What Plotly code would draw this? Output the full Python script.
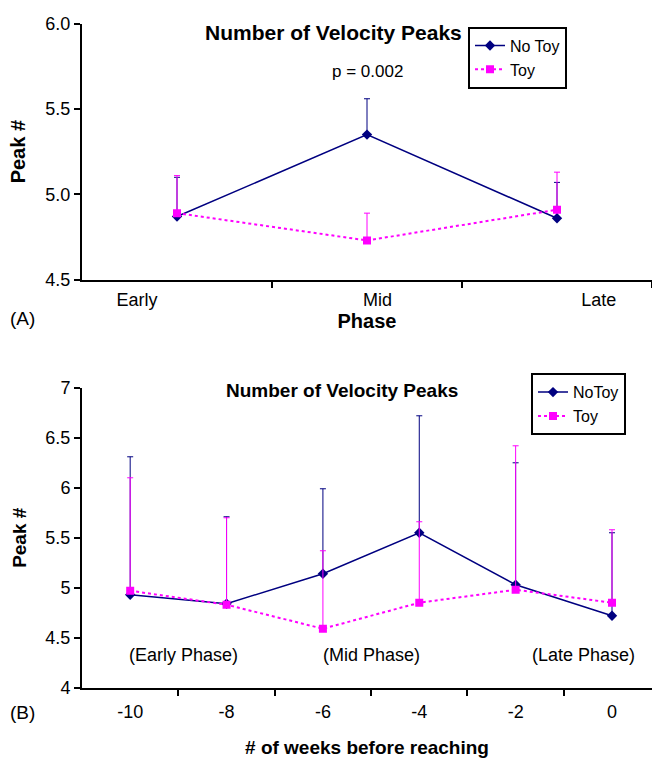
import plotly.graph_objects as go

# ---------- Panel A data ----------
phases = ["Early", "Mid", "Late"]
a_notoy = [4.87, 5.35, 4.86]
a_notoy_err = [0.23, 0.21, 0.21]
a_toy = [4.89, 4.73, 4.91]
a_toy_err = [0.22, 0.16, 0.22]

# ---------- Panel B data ----------
weeks = [-10, -8, -6, -4, -2, 0]
b_notoy = [4.93, 4.84, 5.14, 5.55, 5.03, 4.72]
b_notoy_err = [1.38, 0.87, 0.85, 1.17, 1.22, 0.83]
b_toy = [4.97, 4.83, 4.59, 4.85, 4.98, 4.85]
b_toy_err = [1.13, 0.87, 0.78, 0.81, 1.44, 0.73]
b_ticks = [str(w) for w in weeks]
phase_notes = ["(Early Phase)", "(Mid Phase)", "(Late Phase)"]
phase_note_x = [-8.9, -5.0, -0.6]

NAVY = "#000080"
MAG = "#FF00FF"
FONT = "Liberation Sans, Arial, sans-serif"

a_x = [i + 0.5 for i in range(len(phases))]
zeros3 = [0] * len(phases)
zeros6 = [0] * len(weeks)

fig = go.Figure()

fig.add_trace(go.Scatter(
    x=a_x, y=a_notoy, name="No Toy", mode="lines+markers",
    line=dict(color=NAVY, width=1.5),
    marker=dict(symbol="diamond", size=8, color=NAVY),
    error_y=dict(type="data", symmetric=False, array=a_notoy_err, arrayminus=zeros3,
                 color=NAVY, thickness=1, width=3),
    xaxis="x", yaxis="y", legend="legend"))
fig.add_trace(go.Scatter(
    x=a_x, y=a_toy, name="Toy", mode="lines+markers",
    line=dict(color=MAG, width=2, dash="dot"),
    marker=dict(symbol="square", size=8, color=MAG),
    error_y=dict(type="data", symmetric=False, array=a_toy_err, arrayminus=zeros3,
                 color=MAG, thickness=1, width=3),
    xaxis="x", yaxis="y", legend="legend"))

fig.add_trace(go.Scatter(
    x=weeks, y=b_notoy, name="NoToy", mode="lines+markers",
    line=dict(color=NAVY, width=1.5),
    marker=dict(symbol="diamond", size=8, color=NAVY),
    error_y=dict(type="data", symmetric=False, array=b_notoy_err, arrayminus=zeros6,
                 color=NAVY, thickness=1, width=3),
    xaxis="x2", yaxis="y2", legend="legend2"))
fig.add_trace(go.Scatter(
    x=weeks, y=b_toy, name="Toy", mode="lines+markers",
    line=dict(color=MAG, width=2, dash="dot"),
    marker=dict(symbol="square", size=8, color=MAG),
    error_y=dict(type="data", symmetric=False, array=b_toy_err, arrayminus=zeros6,
                 color=MAG, thickness=1, width=3),
    xaxis="x2", yaxis="y2", legend="legend2"))

W, H = 652, 761
def py(p):  # pixel y -> paper
    return 1 - p / H
def px(p):
    return p / W

axis_common = dict(showline=True, linecolor="black", linewidth=2, showgrid=False,
                   zeroline=False, tickcolor="black", ticklen=6, tickwidth=1.5,
                   tickfont=dict(family=FONT, size=18, color="black"))

fig.update_layout(
    width=W, height=H, margin=dict(l=0, r=0, t=0, b=0),
    paper_bgcolor="white", plot_bgcolor="white",
    font=dict(family=FONT, color="black"),
    xaxis=dict(domain=[px(82), 1.0], anchor="y", range=[0, 3],
               tickmode="array", tickvals=[0.29, 1.555, 2.72], ticktext=phases, ticks="",
               ticklabelstandoff=3,
               minor=dict(tickmode="array", tickvals=[1, 2, 3], ticks="outside",
                          ticklen=6, tickcolor="black", tickwidth=1.5),
               title=dict(text="<b>Phase</b>", font=dict(size=20), standoff=3),
               **axis_common),
    yaxis=dict(domain=[py(277), py(14)], anchor="x", range=[4.5, 6.0],
               tickmode="array", tickvals=[4.5, 5.0, 5.5, 6.0],
               ticktext=["4.5", "5.0", "5.5", "6.0"], ticks="outside",
               title=dict(text="<b>Peak #</b>", font=dict(size=20), standoff=14),
               **axis_common),
    xaxis2=dict(domain=[px(82), 1.0], anchor="y2", range=[-11, 0.83],
                tickmode="array", tickvals=weeks, ticktext=b_ticks, ticks="",
                ticklabelstandoff=7,
                minor=dict(tickmode="array", tickvals=[-9, -7, -5, -3, -1], ticks="outside",
                           ticklen=6, tickcolor="black", tickwidth=1.5),
                title=dict(text="<b># of weeks before reaching</b>", font=dict(size=19), standoff=19),
                **axis_common),
    yaxis2=dict(domain=[py(696), py(388)], anchor="x2", range=[4, 7],
                tickmode="array", tickvals=[4, 4.5, 5, 5.5, 6, 6.5, 7],
                ticktext=["4", "4.5", "5", "5.5", "6", "6.5", "7"], ticks="outside",
                title=dict(text="<b>Peak #</b>", font=dict(size=19), standoff=14),
                **axis_common),
    legend=dict(x=px(468), y=py(17), xanchor="left", yanchor="top",
                bordercolor="black", borderwidth=2, bgcolor="white",
                font=dict(family=FONT, size=16, color="black"),
                tracegroupgap=0, itemwidth=30),
    legend2=dict(x=px(531), y=py(373), xanchor="left", yanchor="top",
                 bordercolor="black", borderwidth=2, bgcolor="white",
                 font=dict(family=FONT, size=16, color="black"),
                 tracegroupgap=0, itemwidth=30),
    showlegend=True,
)

annotations = [
    dict(text="<b>Number of Velocity Peaks</b>", x=px(333), y=py(23), xref="paper", yref="paper",
         showarrow=False, font=dict(size=21), xanchor="center", yanchor="middle"),
    dict(text="p = 0.002", x=1.5, y=5.72, xref="x", yref="y",
         showarrow=False, font=dict(size=17), xanchor="center", yanchor="middle"),
    dict(text="(A)", x=px(8), y=py(317), xref="paper", yref="paper",
         showarrow=False, font=dict(size=19), xanchor="left", yanchor="middle"),
    dict(text="<b>Number of Velocity Peaks</b>", x=px(342), y=py(391), xref="paper", yref="paper",
         showarrow=False, font=dict(size=19), xanchor="center", yanchor="middle"),
    dict(text="(B)", x=px(8), y=py(721), xref="paper", yref="paper",
         showarrow=False, font=dict(size=19), xanchor="left", yanchor="middle"),
]
for t, xv in zip(phase_notes, phase_note_x):
    annotations.append(dict(text=t, x=xv, y=4.33, xref="x2", yref="y2", showarrow=False,
                            font=dict(size=18), xanchor="center", yanchor="middle"))
fig.update_layout(annotations=annotations)

fig.write_html("out.html")
